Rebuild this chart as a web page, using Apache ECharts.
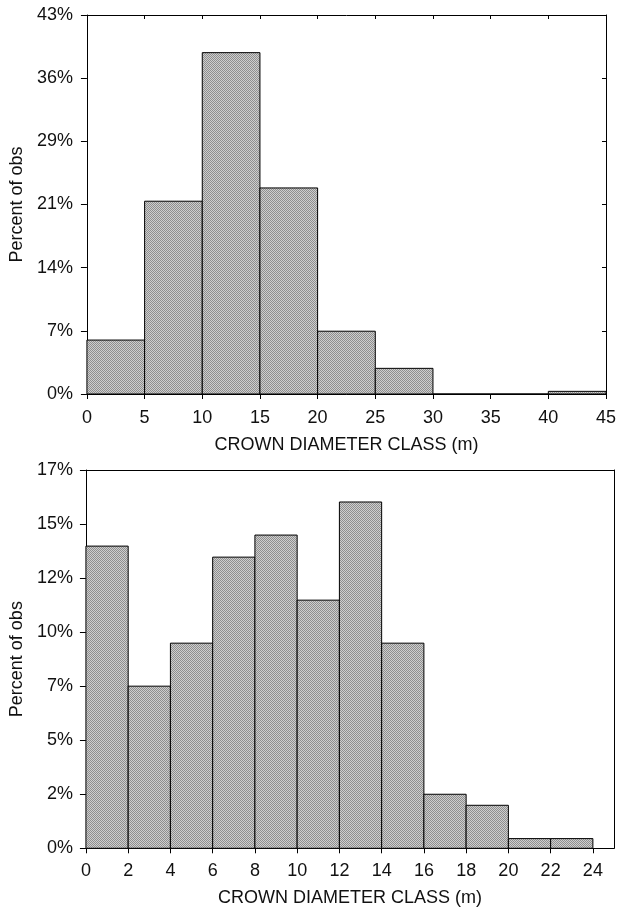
<!DOCTYPE html>
<html>
<head>
<meta charset="utf-8">
<script src="https://cdn.jsdelivr.net/npm/echarts@6/dist/echarts.min.js"></script>
<style>
html,body{margin:0;padding:0;background:#fff;}
#chart{width:619px;height:910px;}
</style>
</head>
<body>
<div id="chart"></div>
<script>
// ---- data ----
const topEdges = [0, 5, 10, 15, 20, 25, 30, 35, 40, 45];
const topValues = [6.1, 21.8, 38.6, 23.3, 7.1, 2.9, 0, 0, 0.3];
const bottomEdges = [0, 2, 4, 6, 8, 10, 12, 14, 16, 18, 20, 22, 24];
const bottomValues = [13.7, 7.35, 9.3, 13.2, 14.2, 11.25, 15.7, 9.3, 2.45, 1.95, 0.44, 0.44];
const topYTickStep = 50 / 7;      // labels 0,7,14,21,29,36,43 %
const topYMax = 300 / 7;
const bottomYTickStep = 2.45;     // labels 0,2,5,7,10,12,15,17 %
const bottomYMax = 17.15;
const bottomXMax = 25;
const xTitle = 'CROWN DIAMETER CLASS (m)';
const yTitle = 'Percent of obs';

function bins(edges, values) {
  return values.map((v, i) => [edges[i], edges[i + 1], v]);
}

// halftone-like fill
const pc = document.createElement('canvas');
pc.width = 2; pc.height = 2;
const pctx = pc.getContext('2d');
pctx.fillStyle = '#cecece'; pctx.fillRect(0, 0, 2, 2);
pctx.fillStyle = '#8e8e8e'; pctx.fillRect(0, 0, 1, 1); pctx.fillRect(1, 1, 1, 1);
const pattern = { image: pc, repeat: 'repeat' };

function renderItem(params, api) {
  const p0 = api.coord([api.value(0), api.value(2)]);
  const p1 = api.coord([api.value(1), 0]);
  return {
    type: 'rect',
    shape: { x: p0[0], y: p0[1], width: p1[0] - p0[0], height: p1[1] - p0[1] },
    style: { fill: pattern, stroke: '#000', lineWidth: 1 }
  };
}

const FONT = 'Liberation Sans, Arial, sans-serif';
const TXT = '#111';
const FS = 18;
const lineStyle = { color: '#000', width: 1 };

function mainX(gridIndex, max, interval, tickVals, gap, margin) {
  return {
    type: 'value', gridIndex, min: 0, max, interval, position: 'bottom',
    name: xTitle, nameLocation: 'middle', nameGap: gap,
    nameTextStyle: { fontFamily: FONT, fontSize: FS, color: TXT },
    axisLine: { show: true, onZero: false, lineStyle },
    axisTick: { show: true, length: 5, lineStyle, customValues: tickVals },
    axisLabel: {
      fontFamily: FONT, fontSize: FS, color: TXT, margin,
      customValues: tickVals,
      formatter: v => String(Math.round(v))
    },
    splitLine: { show: false }
  };
}
function mirrorX(gridIndex, max, interval, ticks) {
  return {
    type: 'value', gridIndex, min: 0, max, interval, position: 'top',
    axisLine: { show: true, onZero: false, lineStyle },
    axisTick: { show: ticks, inside: true, length: 4, lineStyle },
    axisLabel: { show: false }, splitLine: { show: false }
  };
}
function mainY(gridIndex, max, interval, margin) {
  return {
    type: 'value', gridIndex, min: 0, max, interval, position: 'left',
    name: yTitle, nameLocation: 'middle', nameGap: 56,
    nameTextStyle: { fontFamily: FONT, fontSize: FS, color: TXT },
    axisLine: { show: true, onZero: false, lineStyle },
    axisTick: { show: true, length: 6, lineStyle },
    axisLabel: {
      fontFamily: FONT, fontSize: FS, color: TXT, margin,
      formatter: v => Math.round(v) + '%'
    },
    splitLine: { show: false }
  };
}
function mirrorY(gridIndex, max, interval, ticks) {
  return {
    type: 'value', gridIndex, min: 0, max, interval, position: 'right',
    axisLine: { show: true, onZero: false, lineStyle },
    axisTick: { show: ticks, inside: true, length: 4, lineStyle },
    axisLabel: { show: false }, splitLine: { show: false }
  };
}

const chart = echarts.init(document.getElementById('chart'), null, { renderer: 'canvas' });
chart.setOption({
  backgroundColor: '#fff',
  animation: false,
  grid: [
    { left: 86, right: 9.5, top: 15, bottom: 516 },
    { left: 84, right: 5, top: 470, bottom: 61.7 }
  ],
  xAxis: [
    mainX(0, 45, 5, topEdges, 42, 15),
    mirrorX(0, 45, 5, true),
    mainX(1, bottomXMax, 2, bottomEdges, 41, 14),
    mirrorX(1, bottomXMax, 2, false)
  ],
  yAxis: [
    mainY(0, topYMax, topYTickStep, 14),
    mirrorY(0, topYMax, topYTickStep, true),
    mainY(1, bottomYMax, bottomYTickStep, 13),
    mirrorY(1, bottomYMax, bottomYTickStep, false)
  ],
  series: [
    {
      type: 'custom', xAxisIndex: 0, yAxisIndex: 0,
      renderItem, data: bins(topEdges, topValues),
      encode: { x: [0, 1], y: 2 }, z: 1
    },
    {
      type: 'custom', xAxisIndex: 2, yAxisIndex: 2,
      renderItem, data: bins(bottomEdges, bottomValues),
      encode: { x: [0, 1], y: 2 }, z: 1
    }
  ]
});
</script>
</body>
</html>
